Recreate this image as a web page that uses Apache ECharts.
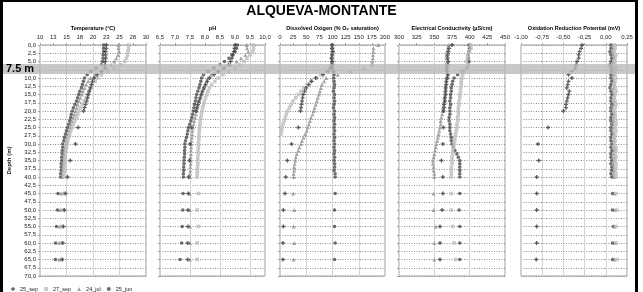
<!DOCTYPE html>
<html><head><meta charset="utf-8">
<script src="https://cdn.jsdelivr.net/npm/echarts@6/dist/echarts.min.js"></script>
<style>html,body{margin:0;padding:0;background:#fff}#c{width:643px;height:292px}</style>
</head><body><div id="c"></div>
<script>
const depths = [0,1,2,3,4,5,6,7,8,9,10,11,12,13,14,15,16,17,18,19,20,21,22,23,24,25,26,27,28,29,30,31,32,33,34,35,36,37,38,39,40,45,50,55,60,65];
const seriesNames = ['25_sep','27_sep','24_jul','25_jun'];
const depthTicks = [0,70,2.5];

// Temperature (°C)
const temp_25sep = [22.5,22.5,22.4,22.4,22.4,22.3,22.3,22.2,21.6,20.8,20.2,19.9,19.7,19.5,19.3,19.1,19.0,18.8,18.6,18.4,18.2,null,null,null,null,17.2,null,null,null,null,16.7,null,null,null,null,15.7,null,null,null,null,15.2,14.8,14.6,14.4,14.3,14.2];
const temp_27sep = [26.7,26.7,26.6,26.5,26.3,26.0,25.2,24.0,22.8,21.6,20.9,20.4,19.9,19.6,19.3,19.0,18.7,18.3,18.0,17.6,17.3,17.1,16.9,16.6,16.3,16.1,15.8,15.6,15.4,15.2,15.1,15.0,14.9,14.8,14.8,14.7,14.7,14.6,14.6,14.5,14.5,14.5,14.3,14.1,14.0,14.1];
const temp_24jul = [24.8,24.8,24.9,24.7,24.4,24.0,23.4,22.6,21.6,20.4,19.5,19.1,18.7,18.4,18.1,17.9,17.6,17.4,17.1,16.9,16.7,16.5,16.3,16.0,15.8,15.7,15.5,15.3,15.1,15.0,14.9,14.8,14.7,14.6,14.5,14.5,14.4,14.3,14.3,14.2,14.2,14.0,13.8,13.7,13.6,13.6];
const temp_25jun = [22.0,22.0,22.0,21.9,21.9,21.8,21.6,20.6,19.6,18.9,18.4,18.2,18.0,17.8,17.5,17.3,17.1,16.9,16.6,16.3,16.1,15.9,15.8,15.6,15.4,15.2,15.0,14.8,14.6,14.5,14.3,14.3,14.2,14.2,14.1,14.1,14.0,14.0,14.0,13.9,13.9,13.4,13.3,13.1,12.95,12.9];

// pH
const ph_25sep = [9.0,8.98,8.96,8.93,8.9,8.85,8.78,8.65,8.45,8.3,8.15,8.08,8.02,7.97,7.92,7.88,7.84,7.8,7.76,7.73,7.7,null,null,null,null,7.55,null,null,null,null,7.5,null,null,null,null,7.48,null,null,null,null,7.45,7.44,7.43,7.43,7.42,7.42];
const ph_27sep = [9.61,9.62,9.6,9.5,9.4,9.3,9.15,9.0,8.8,8.6,8.44,8.33,8.22,8.15,8.1,8.06,8.02,7.98,7.95,7.92,7.9,7.88,7.86,7.84,7.83,7.82,7.81,7.8,7.8,7.79,7.78,7.78,7.77,7.77,7.76,7.76,7.76,7.75,7.75,7.74,7.74,7.78,7.74,7.78,7.74,7.74];
const ph_24jul = [9.39,9.4,9.44,9.35,9.2,9.05,8.85,8.6,8.4,8.2,8.1,8.05,8.0,7.95,7.9,7.87,7.84,7.8,7.77,7.74,7.72,7.7,7.67,7.64,7.62,7.6,7.58,7.57,7.56,7.55,7.54,7.54,7.53,7.53,7.52,7.52,7.52,7.51,7.51,7.5,7.5,7.49,7.5,7.5,7.5,7.5];
const ph_25jun = [9.08,9.05,9.0,8.9,8.8,8.65,8.5,8.3,8.1,7.95,7.89,7.86,7.83,7.8,7.76,7.72,7.7,7.68,7.65,7.63,7.61,7.59,7.56,7.53,7.49,7.45,7.43,7.41,7.38,7.35,7.33,7.33,7.32,7.32,7.31,7.3,7.3,7.29,7.29,7.28,7.28,7.27,7.26,7.24,7.22,7.17];

// Dissolved oxygen (% saturation)
const do_25sep = [99,99,100,99,98,99,98,97,92,82,68,60,55,50,47,44,43,42,41,40,39,null,null,null,null,35,null,null,null,null,22,null,null,null,null,14,null,null,null,null,11,9.5,6.3,6.3,5.5,5.5];
const do_27sep = [100,100,99,100,101,100,99,95,88,78,70,60,52,45,40,35,30,25,21,18,15,12,10,8,6,4,3,2,null,null,null,null,null,null,null,null,null,null,null,null,null,null,null,null,null,null];
const do_24jul = [187,178,178,177,177,176,175,160,135,110,88,84,80,78,76,74,72,70,68,66,64,62,59,57,55,53,51,48,45,42,40,37,35,32,30,29,28,27,27,26,26,25,27,26,27,26];
const do_25jun = [100,100,101,100,99,100,101,100,102,103,102,103,104,103,102,104,103,104,103,102,104,103,104,103,104,103,104,103,104,103,104,103,104,103,104,103,104,104,103,105,105,105,104,104,105,104];

// Electrical conductivity (µS/cm)
const ec_25sep = [375,371,370,369,369,370,369,368,368,369,368,367,367,366,366,366,365,365,364,364,363,null,null,null,null,363,null,null,null,null,362,null,null,null,null,360,null,null,null,null,362,362,361,358,358,358];
const ec_27sep = [401,402,400,398,397,395,398,396,392,390,389,388,388,387,387,386,386,385,385,384,384,384,383,383,382,382,381,380,379,379,378,377,376,376,375,375,375,374,374,374,374,374,374,376,378,380];
const ec_24jul = [370,369,368,367,367,368,366,367,368,369,368,367,366,366,365,365,364,364,363,362,362,361,360,359,359,358,357,356,355,354,353,352,351,350,349,348,348,349,349,350,350,349,349,352,350,350];
const ec_25jun = [399,400,399,398,398,399,398,396,390,383,378,376,375,374,374,373,373,372,373,372,372,372,371,371,372,372,372,373,374,374,375,377,379,382,384,386,386,386,386,386,386,386,385,386,386,386];

// Oxidation reduction potential (mV)
const orp_25sep = [-0.28,-0.29,-0.31,-0.32,-0.32,-0.34,-0.35,-0.36,-0.40,-0.44,-0.40,-0.44,-0.45,-0.46,-0.43,-0.44,-0.45,-0.46,-0.47,-0.47,-0.50,null,null,null,null,-0.68,null,null,null,null,-0.80,null,null,null,null,-0.79,null,null,null,null,-0.815,-0.815,-0.815,-0.815,-0.815,-0.82];
const orp_27sep = [0.10,0.11,0.10,0.12,0.11,0.10,0.11,0.12,0.10,0.11,0.12,0.11,0.10,0.11,0.12,0.11,0.10,0.11,0.12,0.11,0.10,0.11,0.11,0.12,0.12,0.11,0.12,0.11,0.10,0.11,0.10,0.12,0.12,0.11,0.12,0.11,0.12,0.12,0.11,0.12,0.12,0.12,0.13,0.12,0.12,0.13];
const orp_24jul = [0.08,0.09,0.08,0.09,0.10,0.09,0.08,0.09,0.10,0.09,0.08,0.09,0.10,0.09,0.08,0.09,0.09,0.10,0.09,0.08,0.09,0.10,0.09,0.09,0.08,0.09,0.08,0.09,0.10,0.09,0.09,0.10,0.10,0.09,0.10,0.10,0.09,0.09,0.10,0.09,0.10,0.10,0.11,0.10,0.11,0.10];
const orp_25jun = [0.06,0.06,0.05,0.06,0.07,0.06,0.05,0.06,0.07,0.06,0.06,0.07,0.06,0.05,0.06,0.07,0.06,0.06,0.07,0.06,0.06,0.07,0.06,0.06,0.07,0.06,0.06,0.07,0.06,0.06,0.07,0.06,0.07,0.06,0.06,0.07,0.06,0.07,0.07,0.06,0.07,0.08,0.08,0.09,0.08,0.08];

const panelTitles = ['Temperature (°C)','pH','Dissolved Oxigen (% O\u2082 saturation)','Electrical Conductivity (µS/cm)','Oxidation Reduction Potential (mV)'];
const panelMin = [10,6.5,0,300,-1];
const panelMax = [30,10,200,450,0.25];
const panelStep = [2.5,0.5,25,25,0.25];
const panelGridStep = [5,1,50,50,0.25];
const panelValues = [
  [temp_25sep,temp_27sep,temp_24jul,temp_25jun],
  [ph_25sep,ph_27sep,ph_24jul,ph_25jun],
  [do_25sep,do_27sep,do_24jul,do_25jun],
  [ec_25sep,ec_27sep,ec_24jul,ec_25jun],
  [orp_25sep,orp_27sep,orp_24jul,orp_25jun]
];

// layout / style
const FONT = 'Liberation Sans';
const gridLeft = [40,160,280,399,521];
const gridWidth = [106,105,105,106,106];
const TOP = 45, HEIGHT = 231;
const fmt = [
  v => String(Math.round(v)),
  v => v.toFixed(1).replace('.', ','),
  v => String(Math.round(v)),
  v => String(Math.round(v)),
  v => v.toFixed(2).replace('.', ',')
];
const markerStyle = {
  '25_sep': {symbol:'path://M2,0H4V2H6V4H4V6H2V4H0V2H2Z', size:4, color:'#3a3a3a'},
  '27_sep': {symbol:'rect', size:3.6, color:'#bdbdbd'},
  '24_jul': {symbol:'triangle', size:4, color:'#8f8f8f'},
  '25_jun': {symbol:'circle', size:3.6, color:'#4a4a4a'}
};

const grids = [], xAxes = [], yAxes = [], series = [];
for (let p = 0; p < 5; p++) {
  grids.push({left: gridLeft[p], top: TOP, width: gridWidth[p], height: HEIGHT, show: true, borderColor: '#a0a0a0', borderWidth: 1, containLabel: false});
  xAxes.push({type:'value', gridIndex:p, position:'top', min:panelMin[p], max:panelMax[p], interval:panelStep[p],
    axisLine:{show:false}, axisTick:{show:true, length:2, lineStyle:{color:'#a0a0a0'}},
    axisLabel:{fontSize:6, color:'#222', fontFamily:FONT, margin:5, formatter:fmt[p], showMinLabel:true, showMaxLabel:true},
    splitLine:{show:false}});
  xAxes.push({type:'value', gridIndex:p, position:'bottom', min:panelMin[p], max:panelMax[p], interval:panelGridStep[p],
    axisLine:{show:false}, axisTick:{show:false}, axisLabel:{show:false},
    splitLine:{show:true, lineStyle:{color:'#d2d2d2', width:1, type:'solid'}}});
  yAxes.push({type:'value', gridIndex:p, inverse:true, min:depthTicks[0], max:depthTicks[1], interval:depthTicks[2],
    axisLine:{show:false}, axisTick:{show:true, length:2, lineStyle:{color:'#a0a0a0'}},
    axisLabel:{show:p===0, fontSize:6, color:'#222', fontFamily:FONT, margin:4,
      formatter: v => (v === 7.5 ? '' : v.toFixed(1).replace('.', ','))},
    splitLine:{show:true, lineStyle:{color:'#8a8a8a', width:1, type:[1,1.5]}},
    name: p===0 ? 'Depth (m)' : '', nameLocation:'middle', nameRotate:90, nameGap:28,
    nameTextStyle:{fontSize:6, fontWeight:'bold', color:'#222', fontFamily:FONT}});
  seriesNames.forEach((s, k) => {
    const vals = panelValues[p][k];
    const data = [];
    depths.forEach((d, i) => { if (vals[i] !== null && vals[i] !== undefined) data.push([vals[i], d]); });
    const m = markerStyle[s];
    series.push({type:'scatter', name:s, xAxisIndex:2*p, yAxisIndex:p, data, symbol:m.symbol, symbolSize:m.size,
      itemStyle:{color:m.color}, silent:true, animation:false, z: 3 + (3-k)});
  });
}

const graphics = [
  {type:'text', left:'center', top:4, style:{text:'ALQUEVA-MONTANTE', font:'bold 14px ' + FONT, fill:'#000'}},
  {type:'rect', shape:{x:3, y:64, width:633, height:10}, style:{fill:'rgba(185,185,185,0.78)'}, z:50, silent:true},
  {type:'text', x:6, y:69, style:{text:'7.5 m', font:'bold 11px ' + FONT, fill:'#000', textVerticalAlign:'middle'}, z:51},
  {type:'rect', shape:{x:1.5, y:0.5, width:635, height:300}, style:{fill:'none', stroke:'#000', lineWidth:3}, z:60, silent:true}
];
for (let p = 0; p < 5; p++) {
  graphics.push({type:'text', x: gridLeft[p] + gridWidth[p]/2, y: 28,
    style:{text: panelTitles[p], font:'bold 5.5px ' + FONT, fill:'#000', textAlign:'center', textVerticalAlign:'middle'}});
}

const chart = echarts.init(document.getElementById('c'), null, {renderer:'canvas'});
chart.setOption({
  animation:false,
  backgroundColor:'#fff',
  grid: grids, xAxis: xAxes, yAxis: yAxes, series,
  legend:{data: seriesNames, left:6, top:281, itemWidth:4, itemHeight:4, itemGap:6,
    textStyle:{fontSize:5.5, color:'#222', fontFamily:FONT}},
  graphic: graphics
});
</script></body></html>
